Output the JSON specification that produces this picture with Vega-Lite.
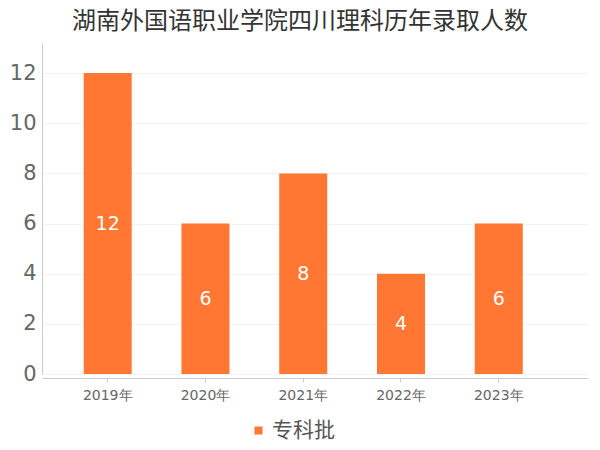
{
  "$schema": "https://vega.github.io/schema/vega-lite/v6.json",
  "autosize": {"type": "none"},
  "width": 546,
  "height": 331,
  "padding": {"left": 42, "top": 43, "right": 12, "bottom": 76},
  "background": "white",
  "config": {
    "font": "DejaVu Sans",
    "view": {"stroke": null}
  },
  "title": {
    "text": "湖南外国语职业学院四川理科历年录取人数",
    "fontSize": 24,
    "fontWeight": "normal",
    "color": "#333333",
    "anchor": "middle",
    "dx": -15,
    "offset": 9,
    "font": "Noto Sans CJK SC"
  },
  "data": {
    "values": [
      {"year": "2019年", "value": 12, "batch": "专科批"},
      {"year": "2020年", "value": 6, "batch": "专科批"},
      {"year": "2021年", "value": 8, "batch": "专科批"},
      {"year": "2022年", "value": 4, "batch": "专科批"},
      {"year": "2023年", "value": 6, "batch": "专科批"}
    ]
  },
  "encoding": {
    "x": {
      "field": "year",
      "type": "nominal",
      "sort": null,
      "scale": {"paddingInner": 0.509, "paddingOuter": 0.547, "align": 0.39},
      "axis": {
        "title": null,
        "labelAngle": 0,
        "labelFontSize": 14,
        "labelColor": "#666666",
        "labelPadding": 6,
        "domainColor": "#cccccc",
        "tickColor": "#cccccc",
        "tickSize": 4,
        "offset": 4,
        "grid": false
      }
    }
  },
  "layer": [
    {
      "mark": {"type": "bar", "color": "#FF7733"},
      "encoding": {
        "y": {
          "field": "value",
          "type": "quantitative",
          "scale": {"domain": [0, 13.2], "nice": false},
          "axis": {
            "title": null,
            "values": [0, 2, 4, 6, 8, 10, 12],
            "labelFontSize": 21,
            "labelColor": "#666666",
            "labelPadding": 6,
            "ticks": false,
            "domainColor": "#cccccc",
            "gridColor": "#f3f3f3",
            "grid": true
          }
        },
        "fill": {
          "field": "batch",
          "type": "nominal",
          "scale": {"range": ["#FF7733"]},
          "legend": {
            "title": null,
            "orient": "none",
            "legendX": 206,
            "legendY": 377,
            "symbolType": "square",
            "symbolSize": 64,
            "symbolStrokeWidth": 0,
            "labelFontSize": 21,
            "labelColor": "#555555",
            "labelFont": "Noto Sans CJK SC",
            "labelOffset": 3
          }
        }
      }
    },
    {
      "transform": [{"calculate": "datum.value / 2", "as": "mid"}],
      "mark": {"type": "text", "color": "white", "fontSize": 19, "baseline": "middle"},
      "encoding": {
        "y": {"field": "mid", "type": "quantitative"},
        "text": {"field": "value", "type": "quantitative"}
      }
    }
  ]
}
